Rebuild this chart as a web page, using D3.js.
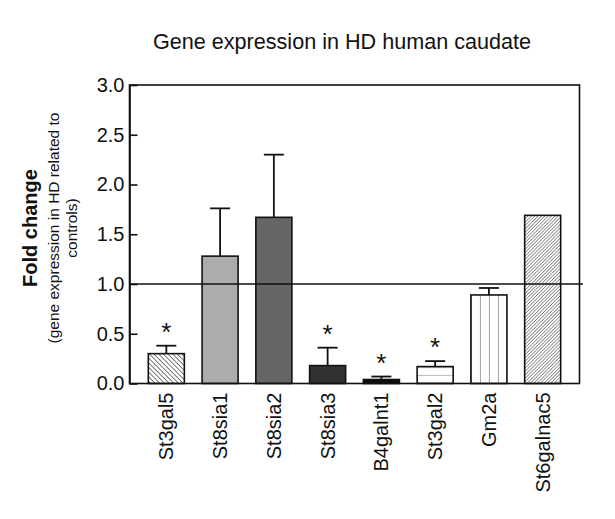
<!DOCTYPE html>
<html>
<head>
<meta charset="utf-8">
<script src="https://cdn.jsdelivr.net/npm/d3@7/dist/d3.min.js"></script>
<style>
  html, body { margin: 0; padding: 0; background: #fff; }
  svg { display: block; font-family: Arial, "Liberation Sans", sans-serif; }
</style>
</head>
<body>
<svg id="chart" width="615" height="519"></svg>
<script>
// ---- data ----
const genes = ["St3gal5", "St8sia1", "St8sia2", "St8sia3", "B4galnt1", "St3gal2", "Gm2a", "St6galnac5"];
const means = [0.30, 1.28, 1.67, 0.18, 0.04, 0.17, 0.89, 1.69];
const errors = [0.08, 0.48, 0.63, 0.18, 0.03, 0.055, 0.07, null];
const significant = [true, false, false, true, true, true, false, false];
const yTicks = [0, 0.5, 1.0, 1.5, 2.0, 2.5, 3.0];
const referenceValue = 1.0;
const titleText = "Gene expression in HD human caudate";
const yLabelMain = "Fold change";
const yLabelSub1 = "(gene expression in HD related to";
const yLabelSub2 = "controls)";

// ---- layout ----
const svg = d3.select("#chart");
const mLeft = 129.5, mRight = 579.5, mTop = 85, mBottom = 383.5;

const x = d3.scaleBand().domain(genes).range([mLeft, mRight]).paddingInner(0.33).paddingOuter(0.35);
const y = d3.scaleLinear().domain([0, 3]).range([mBottom, mTop]);

// fills
const defs = svg.append("defs");
function diagPattern(id, spacing, angle, sw) {
  const p = defs.append("pattern").attr("id", id).attr("patternUnits", "userSpaceOnUse")
    .attr("width", spacing).attr("height", spacing)
    .attr("patternTransform", `rotate(${angle})`);
  p.append("rect").attr("width", spacing).attr("height", spacing).attr("fill", "#fff");
  p.append("line").attr("x1", 0).attr("y1", 0).attr("x2", 0).attr("y2", spacing)
    .attr("stroke", "#111").attr("stroke-width", sw);
}
diagPattern("hatchBack", 3.3, -45, 1.1);
diagPattern("hatchFwd", 2.4, 45, 0.85);

const hp = defs.append("pattern").attr("id", "hlines").attr("patternUnits", "userSpaceOnUse")
  .attr("x", 0).attr("y", y(0) - 8.6).attr("width", 10).attr("height", 7.7);
hp.append("rect").attr("width", 10).attr("height", 7.7).attr("fill", "#fff");
hp.append("line").attr("x1", 0).attr("x2", 10).attr("y1", 0).attr("y2", 0)
  .attr("stroke", "#777").attr("stroke-width", 1);

const vw = x.bandwidth() / 4;
const vp = defs.append("pattern").attr("id", "vlines").attr("patternUnits", "userSpaceOnUse")
  .attr("x", x("Gm2a")).attr("y", 0).attr("width", vw).attr("height", 10);
vp.append("rect").attr("width", vw).attr("height", 10).attr("fill", "#fff");
vp.append("line").attr("x1", 0).attr("x2", 0).attr("y1", 0).attr("y2", 10)
  .attr("stroke", "#444").attr("stroke-width", 1);

const fills = {
  "St3gal5": "url(#hatchBack)",
  "St8sia1": "#acacac",
  "St8sia2": "#666666",
  "St8sia3": "#323232",
  "B4galnt1": "#0c0c0c",
  "St3gal2": "url(#hlines)",
  "Gm2a": "url(#vlines)",
  "St6galnac5": "url(#hatchFwd)"
};

const data = genes.map((g, i) => ({ gene: g, mean: means[i], err: errors[i], sig: significant[i] }));

// title
svg.append("text").attr("x", 342).attr("y", 49).attr("text-anchor", "middle")
  .attr("font-size", 21.6).attr("fill", "#111").text(titleText);

// y axis label
const yl = svg.append("g").attr("transform", `translate(0, ${228})`);
yl.append("text").attr("transform", "translate(37,0) rotate(-90)").attr("text-anchor", "middle")
  .attr("font-size", 20).attr("font-weight", "bold").attr("fill", "#111").text(yLabelMain);
yl.append("text").attr("transform", "translate(59,0) rotate(-90)").attr("text-anchor", "middle")
  .attr("font-size", 15.5).attr("fill", "#111").text(yLabelSub1);
yl.append("text").attr("transform", "translate(77,0) rotate(-90)").attr("text-anchor", "middle")
  .attr("font-size", 15.5).attr("fill", "#111").text(yLabelSub2);

// error bars
const eb = svg.append("g").attr("stroke", "#111").attr("stroke-width", 1.8);
data.filter(d => d.err != null).forEach(d => {
  const cx = x(d.gene) + x.bandwidth() / 2;
  eb.append("line").attr("x1", cx).attr("x2", cx).attr("y1", y(d.mean)).attr("y2", y(d.mean + d.err));
  eb.append("line").attr("x1", cx - 10).attr("x2", cx + 10).attr("y1", y(d.mean + d.err)).attr("y2", y(d.mean + d.err));
});

// bars
svg.append("g").selectAll("rect").data(data).join("rect")
  .attr("x", d => x(d.gene))
  .attr("y", d => y(d.mean))
  .attr("width", x.bandwidth())
  .attr("height", d => y(0) - y(d.mean))
  .attr("fill", d => fills[d.gene])
  .attr("stroke", "#111").attr("stroke-width", 1.6);

// asterisks
svg.append("g").selectAll("text").data(data.filter(d => d.sig)).join("text")
  .attr("x", d => x(d.gene) + x.bandwidth() / 2)
  .attr("y", d => y(d.mean + (d.err || 0)) - 5)
  .attr("text-anchor", "middle").attr("font-size", 26).attr("fill", "#111").text("*");

// reference line
svg.append("line").attr("x1", mLeft).attr("x2", mRight + 3.5)
  .attr("y1", y(referenceValue)).attr("y2", y(referenceValue))
  .attr("stroke", "#111").attr("stroke-width", 1.6);

// frame
svg.append("rect").attr("x", mLeft).attr("y", mTop).attr("width", mRight - mLeft).attr("height", mBottom - mTop)
  .attr("fill", "none").attr("stroke", "#111").attr("stroke-width", 1.6);

// y axis
const yAxis = svg.append("g").attr("transform", `translate(${mLeft},0)`)
  .call(d3.axisLeft(y).tickValues(yTicks).tickFormat(d3.format(".1f")).tickSizeInner(-8).tickSizeOuter(0).tickPadding(5));
yAxis.select(".domain").attr("stroke", "#111").attr("stroke-width", 1.6);
yAxis.selectAll(".tick line").attr("stroke", "#111").attr("stroke-width", 1.6);
yAxis.selectAll(".tick text").attr("font-size", 20).attr("fill", "#111").attr("font-family", "Arial, 'Liberation Sans', sans-serif");

// x axis
const xAxis = svg.append("g").attr("transform", `translate(0,${mBottom})`)
  .call(d3.axisBottom(x).tickSize(0).tickPadding(9));
xAxis.select(".domain").remove();
xAxis.selectAll(".tick text")
  .attr("font-size", 20).attr("fill", "#111").attr("font-family", "Arial, 'Liberation Sans', sans-serif")
  .attr("text-anchor", "end")
  .attr("transform", "rotate(-90)")
  .attr("x", -9).attr("y", 0).attr("dy", "0.35em");
</script>
</body>
</html>
